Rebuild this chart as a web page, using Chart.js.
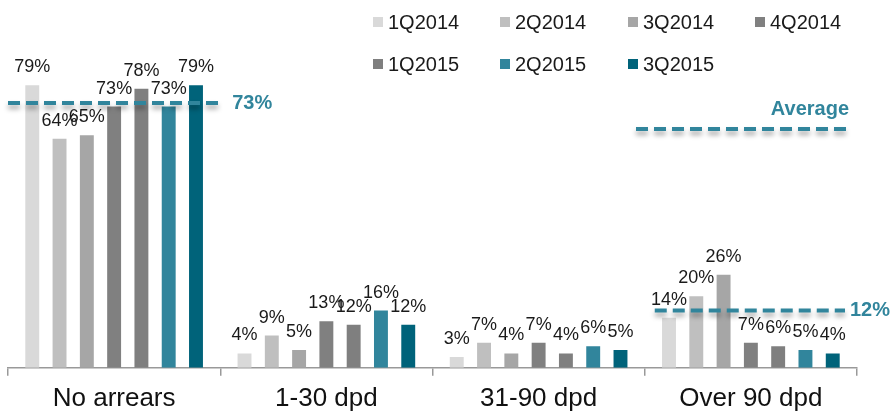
<!DOCTYPE html>
<html>
<head>
<meta charset="utf-8">
<script src="https://cdn.jsdelivr.net/npm/chart.js@4"></script>
<style>
  html, body { margin: 0; padding: 0; background: #ffffff; }
  #wrap { position: relative; width: 894px; height: 418px; }
</style>
</head>
<body>
<div id="wrap"><canvas id="arrearsChart" width="894" height="418"></canvas></div>
<script>
// Data

const categories = ['No arrears', '1-30 dpd', '31-90 dpd', 'Over 90 dpd'];
const quarters = ['1Q2014', '2Q2014', '3Q2014', '4Q2014', '1Q2015', '2Q2015', '3Q2015'];

const q1_2014 = [79, 4, 3, 14];
const q2_2014 = [64, 9, 7, 20];
const q3_2014 = [65, 5, 4, 26];
const q4_2014 = [73, 13, 7, 7];
const q1_2015 = [78, 12, 4, 6];
const q2_2015 = [73, 16, 6, 5];
const q3_2015 = [79, 12, 5, 4];

const quarterColors = ['#d9d9d9', '#bfbfbf', '#a6a6a6', '#808080', '#7f7f7f', '#31859c', '#00637a'];

// average markers: category index, labelled value, level the line is drawn at
const avgCategories = [0, 3];
const avgLabels = [73, 12];
const avgLevels = [74, 16];

const teal = '#31859c';
const fontFamily = '"Liberation Sans", Arial, sans-serif';

// Plugins

const barLabels = {
  id: 'barLabels',
  afterDatasetsDraw(chart) {
    const ctx = chart.ctx;
    ctx.save();
    ctx.font = '18px ' + fontFamily;
    ctx.fillStyle = '#1a1a1a';
    ctx.textAlign = 'center';
    ctx.textBaseline = 'alphabetic';
    chart.data.datasets.forEach((ds, i) => {
      chart.getDatasetMeta(i).data.forEach((bar, j) => {
        ctx.fillText(ds.data[j] + '%', bar.x, bar.y - 13);
      });
    });
    ctx.restore();
  }
};

function dashedLine(ctx, x1, x2, y) {
  ctx.save();
  ctx.strokeStyle = teal;
  ctx.lineWidth = 4;
  ctx.setLineDash([12, 6]);
  ctx.shadowColor = 'rgba(0, 0, 0, 0.35)';
  ctx.shadowBlur = 5;
  ctx.shadowOffsetY = 4;
  ctx.beginPath();
  ctx.moveTo(x1, y);
  ctx.lineTo(x2, y);
  ctx.stroke();
  ctx.restore();
}

const averageLines = {
  id: 'averageLines',
  afterDatasetsDraw(chart) {
    const ctx = chart.ctx;
    const xs = chart.scales.x;
    const ys = chart.scales.y;
    const half = (xs.getPixelForValue(1) - xs.getPixelForValue(0)) / 2;
    avgCategories.forEach((c, k) => {
      const cx = xs.getPixelForValue(c);
      const y = ys.getPixelForValue(avgLevels[k]);
      const x1 = k === 0 ? cx - half : cx - half + 10;
      const x2 = k === 0 ? cx + half : cx + half - 12;
      dashedLine(ctx, x1, x2, y);
      ctx.save();
      ctx.font = 'bold 20px ' + fontFamily;
      ctx.fillStyle = teal;
      ctx.textAlign = 'left';
      ctx.textBaseline = 'middle';
      ctx.fillText(avgLabels[k] + '%', x2 + (k === 0 ? 12 : 5), y);
      ctx.restore();
    });
  }
};

const customLegend = {
  id: 'customLegend',
  afterDraw(chart) {
    const ctx = chart.ctx;
    ctx.save();
    ctx.font = '20px ' + fontFamily;
    ctx.textBaseline = 'middle';
    ctx.textAlign = 'left';
    const colX = [373, 500, 628, 755];
    const rowY = [22, 64];
    quarters.forEach((q, i) => {
      const x = colX[i % 4];
      const y = rowY[Math.floor(i / 4)];
      ctx.fillStyle = quarterColors[i];
      ctx.fillRect(x, y - 5, 10, 10);
      ctx.fillStyle = '#1a1a1a';
      ctx.fillText(q, x + 15, y + 1);
    });
    // average key
    ctx.font = 'bold 20px ' + fontFamily;
    ctx.fillStyle = teal;
    ctx.textAlign = 'right';
    ctx.fillText('Average', 849, 109);
    ctx.restore();
    dashedLine(ctx, 636, 849, 129);
  }
};

// Chart

const series = [q1_2014, q2_2014, q3_2014, q4_2014, q1_2015, q2_2015, q3_2015];

new Chart(document.getElementById('arrearsChart').getContext('2d'), {
  type: 'bar',
  data: {
    labels: categories,
    datasets: series.map((values, i) => ({
      label: quarters[i],
      data: values,
      backgroundColor: quarterColors[i],
      borderWidth: 0,
      categoryPercentage: 0.9,
      barPercentage: 0.51
    }))
  },
  options: {
    responsive: false,
    animation: false,
    layout: { padding: { left: 8, right: 37, top: 10, bottom: -3 } },
    plugins: {
      legend: { display: false },
      tooltip: { enabled: false }
    },
    scales: {
      x: {
        offset: true,
        grid: {
          display: true,
          offset: true,
          drawOnChartArea: false,
          drawTicks: true,
          tickLength: 8,
          color: '#999999',
          lineWidth: 1.5
        },
        border: { display: true, color: '#999999', width: 1.5 },
        ticks: {
          color: '#111111',
          padding: 7,
          font: { family: fontFamily, size: 26 }
        }
      },
      y: {
        display: false,
        min: 0,
        max: 100
      }
    }
  },
  plugins: [barLabels, averageLines, customLegend]
});
</script>
</body>
</html>
